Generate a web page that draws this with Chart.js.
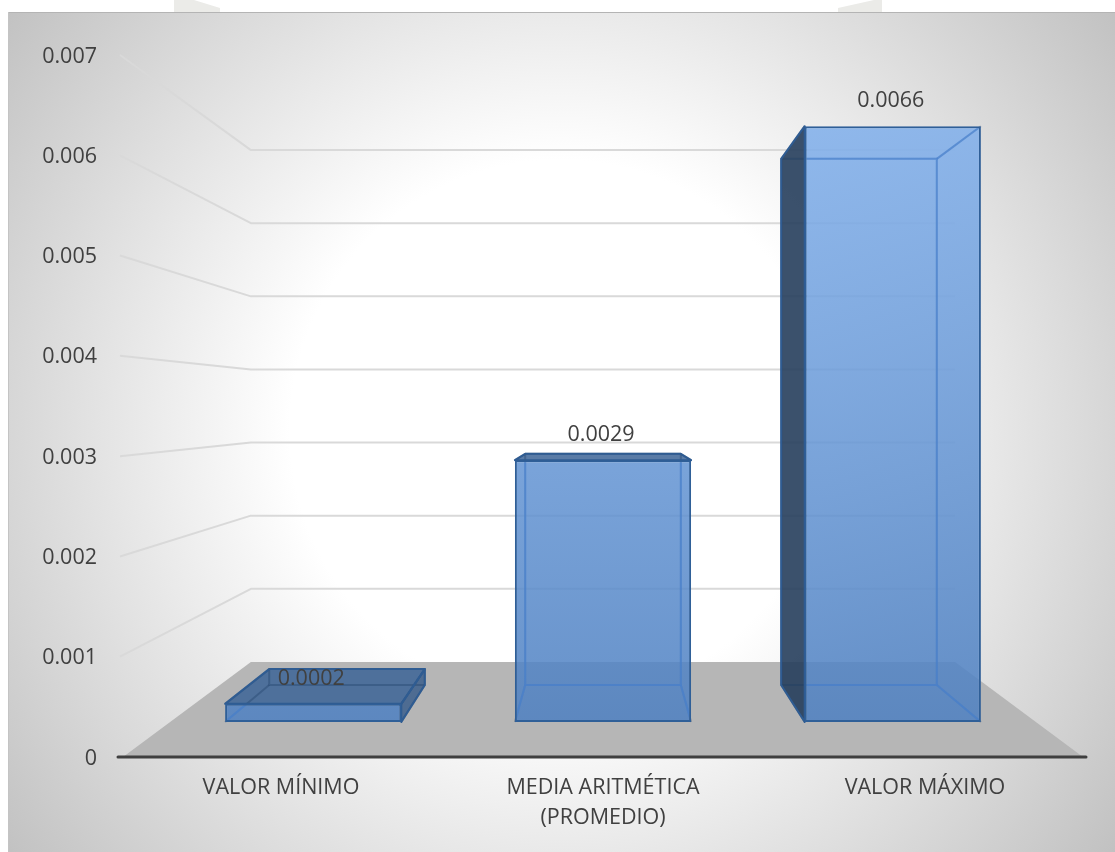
<!DOCTYPE html>
<html>
<head>
<meta charset="utf-8">
<style>
  html, body { margin: 0; padding: 0; background: #fff; }
  canvas { display: block; }
</style>
<script src="https://cdn.jsdelivr.net/npm/chart.js@4"></script>
</head>
<body>
<canvas id="myChart" width="1115" height="852"></canvas>
<script>
const categories = [["VALOR MÍNIMO"], ["MEDIA ARITMÉTICA", "(PROMEDIO)"], ["VALOR MÁXIMO"]];
const values = [0.0002, 0.0029, 0.0066];
const yMax = 0.007;
const yStep = 0.001;

// depth of each plane as a shrink factor towards the middle of the plot
const WALL_DEPTH = 0.729;
const BAR_FRONT = 0.9;
const BAR_BACK = 0.795;

const TEXT_COLOR = "#404040";
const FONT = "'Open Sans', sans-serif";
const FONT_SIZE = 21.5;

const ctx = document.getElementById("myChart").getContext("2d");

const frontFill = ctx.createLinearGradient(0, 125, 0, 721);
frontFill.addColorStop(0, "rgba(128, 175, 235, 0.86)");
frontFill.addColorStop(1, "rgba(78, 128, 193, 0.86)");

let boxes = [];

const shrink = (chart, x, y, s) => {
    const { left, right, top, bottom } = chart.chartArea;
    const cx = (left + right) / 2;
    const cy = (top + bottom) / 2;
    return [cx + (x - cx) * s, cy + (y - cy) * s];
};

const polygon = (c, pts) => {
    c.beginPath();
    pts.forEach((p, i) => (i ? c.lineTo(p[0], p[1]) : c.moveTo(p[0], p[1])));
    c.closePath();
};

const segment = (c, a, b) => {
    c.beginPath();
    c.moveTo(a[0], a[1]);
    c.lineTo(b[0], b[1]);
    c.stroke();
};

// back rectangle plus the four edges running to the front rectangle
const strokeDepthEdges = (c, box) => {
    polygon(c, box.back);
    c.stroke();
    box.back.forEach((p, i) => segment(c, p, box.front[i]));
};

const panelPlugin = {
    id: "panel",
    beforeDraw(chart) {
        const c = chart.ctx;
        c.save();
        // faint marks sticking out above the panel
        c.fillStyle = "#ebebe8";
        polygon(c, [[174, 0], [194, 0], [220, 8], [220, 12], [174, 12]]);
        c.fill();
        polygon(c, [[838, 12], [838, 8], [874, 0], [882, 0], [882, 12]]);
        c.fill();

        const bg = c.createRadialGradient(560, 430, 270, 560, 430, 720);
        bg.addColorStop(0, "#ffffff");
        bg.addColorStop(1, "#bebebe");
        c.fillStyle = bg;
        c.fillRect(8, 12, 1107, 840);
        c.fillStyle = "#b4b4b4";
        c.fillRect(8, 12, 1107, 1);
        c.fillStyle = "#c4c4c4";
        c.fillRect(8, 12, 1, 840);
        c.restore();
    },
};

const depthPlugin = {
    id: "depth",
    afterDatasetsUpdate(chart) {
        const meta = chart.getDatasetMeta(0);
        const yZero = chart.scales.y.getPixelForValue(0);
        boxes = meta.data.map((bar) => {
            const half = bar.width / 2;
            const corners = (s) => [
                shrink(chart, bar.x - half, bar.y, s),
                shrink(chart, bar.x + half, bar.y, s),
                shrink(chart, bar.x + half, yZero, s),
                shrink(chart, bar.x - half, yZero, s),
            ];
            return { front: corners(BAR_FRONT), back: corners(BAR_BACK) };
        });
        // the library's own bars become the front faces
        meta.data.forEach((bar, i) => {
            const f = boxes[i].front;
            bar.x = (f[0][0] + f[1][0]) / 2;
            bar.width = f[1][0] - f[0][0];
            bar.y = f[0][1];
            bar.base = f[3][1];
        });
    },
    beforeDatasetsDraw(chart) {
        const c = chart.ctx;
        const { left, right, top, bottom } = chart.chartArea;
        const y = chart.scales.y;
        const cx = (left + right) / 2;
        const cy = (top + bottom) / 2;
        c.save();
        c.lineJoin = "round";

        // floor
        c.fillStyle = "#b6b6b6";
        polygon(c, [
            [left + 3, bottom],
            [right - 3, bottom],
            shrink(chart, right, bottom, WALL_DEPTH),
            shrink(chart, left, bottom, WALL_DEPTH),
        ]);
        c.fill();

        // grid lines along the left wall and across the back wall
        c.strokeStyle = "#d9d9d9";
        c.lineWidth = 2;
        y.ticks.forEach((t) => {
            if (t.value === 0) return;
            const py = y.getPixelForValue(t.value);
            const corner = shrink(chart, left, py, WALL_DEPTH);
            const end = shrink(chart, right, py, WALL_DEPTH);
            c.beginPath();
            c.moveTo(left, py);
            c.lineTo(corner[0], corner[1]);
            c.lineTo(end[0], end[1]);
            c.stroke();
        });

        boxes.forEach((b) => {
            const [fl, fr, frb, flb] = b.front;
            const [bl, br, brb, blb] = b.back;
            // only the faces turned towards the viewer get a dark fill
            const faces = [];
            if (fl[1] > cy) faces.push({ pts: [fl, fr, br, bl], fill: "rgba(60, 100, 150, 0.85)" });
            if (fr[0] < cx) faces.push({ pts: [fr, br, brb, frb], fill: "rgba(60, 95, 140, 0.85)" });
            if (fl[0] > cx) faces.push({ pts: [fl, bl, blb, flb], fill: "rgba(38, 62, 92, 0.9)" });
            faces.forEach((f) => {
                c.fillStyle = f.fill;
                polygon(c, f.pts);
                c.fill();
            });
            c.strokeStyle = "rgba(30, 60, 100, 0.35)";
            c.lineWidth = 2;
            strokeDepthEdges(c, b);
            c.strokeStyle = "#2f5c92";
            faces.forEach((f) => {
                polygon(c, f.pts);
                c.stroke();
            });
        });
        c.restore();
    },
    afterDatasetsDraw(chart) {
        const c = chart.ctx;
        const { left, right, bottom } = chart.chartArea;
        c.save();

        // edges seen through the front faces
        boxes.forEach((b) => {
            const [fl, fr, frb] = b.front;
            c.save();
            c.beginPath();
            c.rect(fl[0] + 2, fl[1] + 2, fr[0] - fl[0] - 4, frb[1] - fr[1] - 4);
            c.clip();
            c.strokeStyle = "rgba(72, 128, 204, 0.7)";
            c.lineWidth = 2;
            strokeDepthEdges(c, b);
            c.restore();
        });

        // zero line
        c.strokeStyle = "#3f3f3f";
        c.lineWidth = 3;
        c.lineCap = "round";
        segment(c, [left - 2, bottom], [right, bottom]);

        // value labels
        c.fillStyle = TEXT_COLOR;
        c.font = `${FONT_SIZE}px ${FONT}`;
        c.textAlign = "center";
        c.textBaseline = "middle";
        chart.getDatasetMeta(0).data.forEach((bar, i) => {
            c.fillText(String(values[i]), bar.x - 2, bar.y - 25);
        });
        c.restore();
    },
};

new Chart(ctx, {
    type: "bar",
    data: {
        labels: categories,
        datasets: [{
            data: values,
            backgroundColor: frontFill,
            borderColor: "#2f5f98",
            borderWidth: 2,
            borderSkipped: false,
            categoryPercentage: 1,
            barPercentage: 0.608,
        }],
    },
    options: {
        responsive: false,
        animation: false,
        events: [],
        layout: { padding: { left: 0, right: 29, top: 55, bottom: 0 } },
        plugins: { legend: { display: false }, tooltip: { enabled: false } },
        scales: {
            x: {
                grid: { display: false },
                border: { display: false },
                afterFit: (scale) => { scale.height = 95; },
                ticks: {
                    color: TEXT_COLOR,
                    padding: 8,
                    maxRotation: 0,
                    autoSkip: false,
                    font: { family: FONT, size: FONT_SIZE, lineHeight: 1.4 },
                },
            },
            y: {
                min: 0,
                max: yMax,
                grid: { display: false },
                border: { display: false },
                afterFit: (scale) => { scale.width = 120; },
                ticks: {
                    stepSize: yStep,
                    color: TEXT_COLOR,
                    padding: 15,
                    labelOffset: 1.5,
                    font: { family: FONT, size: FONT_SIZE },
                    callback: (v) => (v === 0 ? "0" : v.toFixed(3)),
                },
            },
        },
    },
    plugins: [panelPlugin, depthPlugin],
});
</script>
</body>
</html>
